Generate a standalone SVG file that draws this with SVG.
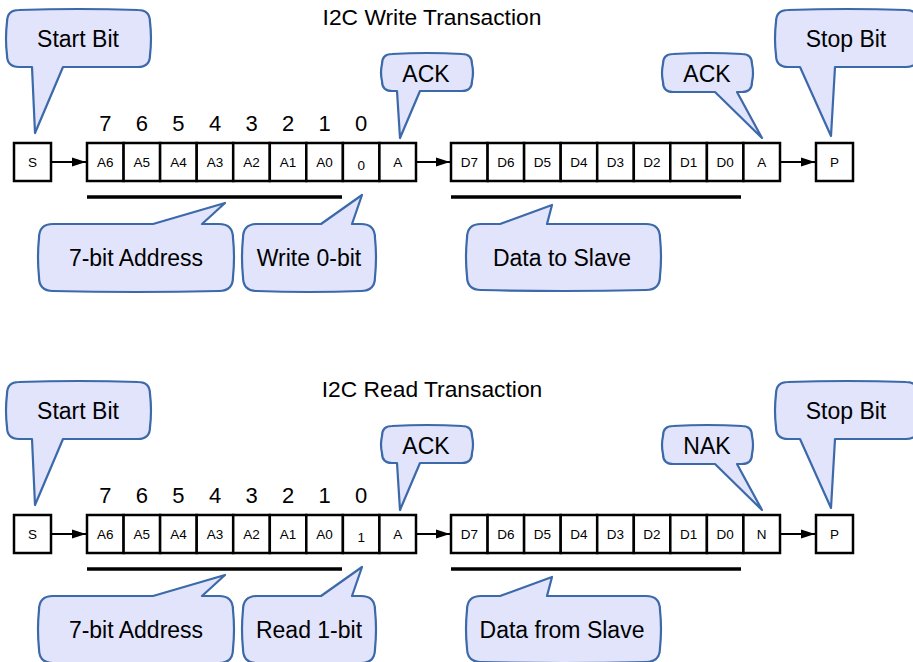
<svg xmlns="http://www.w3.org/2000/svg" width="913" height="662" viewBox="0 0 913 662">
<defs>
<style>
.bx{fill:#fff;stroke:#000;stroke-width:2.5}
.bt{font-family:"Liberation Sans",Arial,sans-serif;font-size:13.5px;fill:#000;text-anchor:middle}
.num{font-family:"Liberation Sans",Arial,sans-serif;font-size:22px;fill:#000;text-anchor:middle}
.title{font-family:"Liberation Sans",Arial,sans-serif;font-size:22.8px;fill:#000;text-anchor:middle}
.bub{fill:#e1e4fb;stroke:#3c69a9;stroke-width:2.2;stroke-linejoin:round}
.bubt{font-family:"Liberation Sans",Arial,sans-serif;font-size:23px;fill:#000;text-anchor:middle}
.arr{stroke:#000;stroke-width:2;fill:none;marker-end:url(#ah)}
.ul{stroke:#000;stroke-width:3.5}
</style>
<marker id="ah" markerUnits="userSpaceOnUse" markerWidth="14" markerHeight="10" refX="14" refY="5" orient="auto">
<path d="M0,0.5 L14,5 L0,9.5 Z" fill="#000"/>
</marker>
</defs>
<rect width="913" height="662" fill="#fff"/>

<!-- WRITE TRANSACTION -->
<g id="write">
<text class="title" x="432" y="25">I2C Write Transaction</text>
<g id="w-nums">
<text class="num" x="105.3" y="131">7</text>
<text class="num" x="141.8" y="131">6</text>
<text class="num" x="178.4" y="131">5</text>
<text class="num" x="215" y="131">4</text>
<text class="num" x="251.5" y="131">3</text>
<text class="num" x="288" y="131">2</text>
<text class="num" x="324.6" y="131">1</text>
<text class="num" x="361.2" y="131">0</text>
</g>
<g id="w-start"><rect class="bx" x="14" y="143" width="37" height="38"/><text class="bt" x="32.5" y="167">S</text></g>
<g id="w-addr">
<rect class="bx" x="87" y="143" width="36.6" height="38"/><text class="bt" x="105.3" y="167">A6</text>
<rect class="bx" x="123.6" y="143" width="36.5" height="38"/><text class="bt" x="141.8" y="167">A5</text>
<rect class="bx" x="160.1" y="143" width="36.6" height="38"/><text class="bt" x="178.4" y="167">A4</text>
<rect class="bx" x="196.7" y="143" width="36.5" height="38"/><text class="bt" x="215" y="167">A3</text>
<rect class="bx" x="233.2" y="143" width="36.6" height="38"/><text class="bt" x="251.5" y="167">A2</text>
<rect class="bx" x="269.8" y="143" width="36.5" height="38"/><text class="bt" x="288" y="167">A1</text>
<rect class="bx" x="306.3" y="143" width="36.6" height="38"/><text class="bt" x="324.6" y="167">A0</text>
<rect class="bx" x="342.9" y="143" width="36.5" height="38"/><text class="bt" x="361.2" y="170">0</text>
<rect class="bx" x="379.4" y="143" width="36.6" height="38"/><text class="bt" x="397.7" y="167">A</text>
</g>
<g id="w-data">
<rect class="bx" x="451" y="143" width="36.6" height="38"/><text class="bt" x="469.3" y="167">D7</text>
<rect class="bx" x="487.6" y="143" width="36.5" height="38"/><text class="bt" x="505.8" y="167">D6</text>
<rect class="bx" x="524.1" y="143" width="36.6" height="38"/><text class="bt" x="542.4" y="167">D5</text>
<rect class="bx" x="560.7" y="143" width="36.5" height="38"/><text class="bt" x="579" y="167">D4</text>
<rect class="bx" x="597.2" y="143" width="36.6" height="38"/><text class="bt" x="615.5" y="167">D3</text>
<rect class="bx" x="633.8" y="143" width="36.5" height="38"/><text class="bt" x="652" y="167">D2</text>
<rect class="bx" x="670.3" y="143" width="36.6" height="38"/><text class="bt" x="688.6" y="167">D1</text>
<rect class="bx" x="706.9" y="143" width="36.5" height="38"/><text class="bt" x="725.2" y="167">D0</text>
<rect class="bx" x="743.4" y="143" width="36.6" height="38"/><text class="bt" x="761.7" y="167">A</text>
</g>
<g id="w-stop"><rect class="bx" x="816" y="143" width="37" height="38"/><text class="bt" x="834.5" y="167">P</text></g>
<g id="w-connectors">
<line class="arr" x1="52" y1="162" x2="86" y2="162"/>
<line class="arr" x1="417" y1="162" x2="450" y2="162"/>
<line class="arr" x1="781" y1="162" x2="815" y2="162"/>
<line class="ul" x1="87" y1="197" x2="342" y2="197"/>
<line class="ul" x1="451" y1="197" x2="741" y2="197"/>
</g>
<g id="w-c-start"><path class="bub" d="M19,10 Q78.5,8 138,10 Q150,10 150,22 Q152,38.5 150,55 Q150,67 138,67 L63,67 L35,133 L32,67 L19,67 Q7,67 7,55 Q5,38.5 7,22 Q7,10 19,10 Z"/><text class="bubt" x="78" y="47">Start Bit</text></g>
<g id="w-c-ack1"><path class="bub" d="M392,54 Q427,52 462,54 Q472,54 472,64 Q474,72.5 472,81 Q472,91 462,91 L420,91 L400,138 L397,91 L392,91 Q382,91 382,81 Q380,72.5 382,64 Q382,54 392,54 Z"/><text class="bubt" x="426" y="82">ACK</text></g>
<g id="w-c-ack2"><path class="bub" d="M673,54 Q707.5,52 742,54 Q752,54 752,64 Q754,73 752,82 Q752,92 742,92 L737,92 L762,138 L715,92 L673,92 Q663,92 663,82 Q661,73 663,64 Q663,54 673,54 Z"/><text class="bubt" x="707" y="82">ACK</text></g>
<g id="w-c-stop"><path class="bub" d="M788,10 Q847,8 906,10 Q918,10 918,22 Q920,38.5 918,55 Q918,67 906,67 L835,67 L831,136 L800,67 L788,67 Q776,67 776,55 Q774,38.5 776,22 Q776,10 788,10 Z"/><text class="bubt" x="846" y="47">Stop Bit</text></g>
<g id="w-c-addr"><path class="bub" d="M53,224 L153,224 L225,203 L202,224 L219,224 Q233,224 233,238 Q235,257.5 233,277 Q233,291 219,291 Q136,293 53,291 Q39,291 39,277 Q37,257.5 39,238 Q39,224 53,224 Z"/><text class="bubt" x="136" y="266">7-bit Address</text></g>
<g id="w-c-rw"><path class="bub" d="M257,224 L321,224 L362,195 L352,224 L361,224 Q375,224 375,238 Q377,257.5 375,277 Q375,291 361,291 Q309,293 257,291 Q243,291 243,277 Q241,257.5 243,238 Q243,224 257,224 Z"/><text class="bubt" x="309" y="266">Write 0-bit</text></g>
<g id="w-c-data"><path class="bub" d="M481,224 L500,224 L552,205 L547,224 L646,224 Q660,224 660,238 Q662,257 660,276 Q660,290 646,290 Q563.5,292 481,290 Q467,290 467,276 Q465,257 467,238 Q467,224 481,224 Z"/><text class="bubt" x="562" y="266">Data to Slave</text></g>
</g>

<!-- READ TRANSACTION -->
<g id="read" transform="translate(0,372)">
<text class="title" x="432" y="25">I2C Read Transaction</text>
<g id="r-nums">
<text class="num" x="105.3" y="131">7</text>
<text class="num" x="141.8" y="131">6</text>
<text class="num" x="178.4" y="131">5</text>
<text class="num" x="215" y="131">4</text>
<text class="num" x="251.5" y="131">3</text>
<text class="num" x="288" y="131">2</text>
<text class="num" x="324.6" y="131">1</text>
<text class="num" x="361.2" y="131">0</text>
</g>
<g id="r-start"><rect class="bx" x="14" y="143" width="37" height="38"/><text class="bt" x="32.5" y="167">S</text></g>
<g id="r-addr">
<rect class="bx" x="87" y="143" width="36.6" height="38"/><text class="bt" x="105.3" y="167">A6</text>
<rect class="bx" x="123.6" y="143" width="36.5" height="38"/><text class="bt" x="141.8" y="167">A5</text>
<rect class="bx" x="160.1" y="143" width="36.6" height="38"/><text class="bt" x="178.4" y="167">A4</text>
<rect class="bx" x="196.7" y="143" width="36.5" height="38"/><text class="bt" x="215" y="167">A3</text>
<rect class="bx" x="233.2" y="143" width="36.6" height="38"/><text class="bt" x="251.5" y="167">A2</text>
<rect class="bx" x="269.8" y="143" width="36.5" height="38"/><text class="bt" x="288" y="167">A1</text>
<rect class="bx" x="306.3" y="143" width="36.6" height="38"/><text class="bt" x="324.6" y="167">A0</text>
<rect class="bx" x="342.9" y="143" width="36.5" height="38"/><text class="bt" x="361.2" y="170">1</text>
<rect class="bx" x="379.4" y="143" width="36.6" height="38"/><text class="bt" x="397.7" y="167">A</text>
</g>
<g id="r-data">
<rect class="bx" x="451" y="143" width="36.6" height="38"/><text class="bt" x="469.3" y="167">D7</text>
<rect class="bx" x="487.6" y="143" width="36.5" height="38"/><text class="bt" x="505.8" y="167">D6</text>
<rect class="bx" x="524.1" y="143" width="36.6" height="38"/><text class="bt" x="542.4" y="167">D5</text>
<rect class="bx" x="560.7" y="143" width="36.5" height="38"/><text class="bt" x="579" y="167">D4</text>
<rect class="bx" x="597.2" y="143" width="36.6" height="38"/><text class="bt" x="615.5" y="167">D3</text>
<rect class="bx" x="633.8" y="143" width="36.5" height="38"/><text class="bt" x="652" y="167">D2</text>
<rect class="bx" x="670.3" y="143" width="36.6" height="38"/><text class="bt" x="688.6" y="167">D1</text>
<rect class="bx" x="706.9" y="143" width="36.5" height="38"/><text class="bt" x="725.2" y="167">D0</text>
<rect class="bx" x="743.4" y="143" width="36.6" height="38"/><text class="bt" x="761.7" y="167">N</text>
</g>
<g id="r-stop"><rect class="bx" x="816" y="143" width="37" height="38"/><text class="bt" x="834.5" y="167">P</text></g>
<g id="r-connectors">
<line class="arr" x1="52" y1="162" x2="86" y2="162"/>
<line class="arr" x1="417" y1="162" x2="450" y2="162"/>
<line class="arr" x1="781" y1="162" x2="815" y2="162"/>
<line class="ul" x1="87" y1="197" x2="342" y2="197"/>
<line class="ul" x1="451" y1="197" x2="741" y2="197"/>
</g>
<g id="r-c-start"><path class="bub" d="M19,10 Q78.5,8 138,10 Q150,10 150,22 Q152,38.5 150,55 Q150,67 138,67 L63,67 L35,133 L32,67 L19,67 Q7,67 7,55 Q5,38.5 7,22 Q7,10 19,10 Z"/><text class="bubt" x="78" y="47">Start Bit</text></g>
<g id="r-c-ack"><path class="bub" d="M392,54 Q427,52 462,54 Q472,54 472,64 Q474,72.5 472,81 Q472,91 462,91 L420,91 L400,138 L397,91 L392,91 Q382,91 382,81 Q380,72.5 382,64 Q382,54 392,54 Z"/><text class="bubt" x="426" y="82">ACK</text></g>
<g id="r-c-nak"><path class="bub" d="M673,54 Q707.5,52 742,54 Q752,54 752,64 Q754,73 752,82 Q752,92 742,92 L737,92 L762,138 L715,92 L673,92 Q663,92 663,82 Q661,73 663,64 Q663,54 673,54 Z"/><text class="bubt" x="707" y="82">NAK</text></g>
<g id="r-c-stop"><path class="bub" d="M788,10 Q847,8 906,10 Q918,10 918,22 Q920,38.5 918,55 Q918,67 906,67 L835,67 L831,136 L800,67 L788,67 Q776,67 776,55 Q774,38.5 776,22 Q776,10 788,10 Z"/><text class="bubt" x="846" y="47">Stop Bit</text></g>
<g id="r-c-addr"><path class="bub" d="M53,224 L153,224 L225,203 L202,224 L219,224 Q233,224 233,238 Q235,257.5 233,277 Q233,291 219,291 Q136,293 53,291 Q39,291 39,277 Q37,257.5 39,238 Q39,224 53,224 Z"/><text class="bubt" x="136" y="266">7-bit Address</text></g>
<g id="r-c-rw"><path class="bub" d="M257,224 L321,224 L362,195 L352,224 L361,224 Q375,224 375,238 Q377,257.5 375,277 Q375,291 361,291 Q309,293 257,291 Q243,291 243,277 Q241,257.5 243,238 Q243,224 257,224 Z"/><text class="bubt" x="309" y="266">Read 1-bit</text></g>
<g id="r-c-data"><path class="bub" d="M481,224 L500,224 L552,205 L547,224 L646,224 Q660,224 660,238 Q662,257 660,276 Q660,290 646,290 Q563.5,292 481,290 Q467,290 467,276 Q465,257 467,238 Q467,224 481,224 Z"/><text class="bubt" x="562" y="266">Data from Slave</text></g>
</g>
</svg>
